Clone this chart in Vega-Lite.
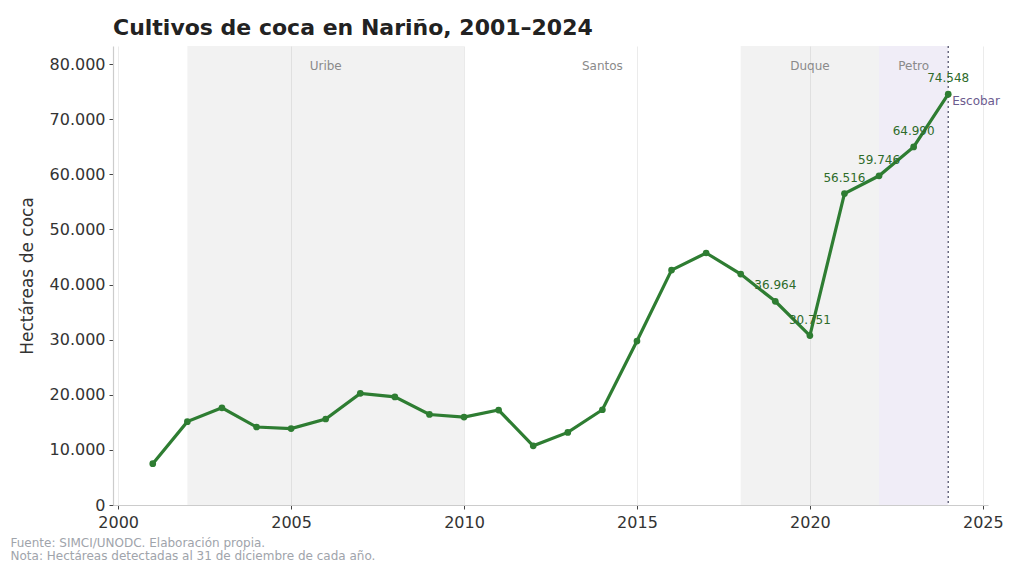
{
  "$schema": "https://vega.github.io/schema/vega-lite/v6.json",
  "width": 875,
  "height": 459,
  "autosize": {"type": "none"},
  "padding": {"left": 113, "top": 46, "right": 36, "bottom": 64},
  "background": "white",
  "title": {
    "text": "Cultivos de coca en Nariño, 2001–2024",
    "anchor": "start",
    "frame": "group",
    "fontSize": 22,
    "fontWeight": "bold",
    "color": "#222222",
    "offset": 5
  },
  "datasets": {
    "coca": [
      {"year": 2001, "ha": 7494},
      {"year": 2002, "ha": 15131},
      {"year": 2003, "ha": 17628},
      {"year": 2004, "ha": 14154},
      {"year": 2005, "ha": 13875},
      {"year": 2006, "ha": 15606},
      {"year": 2007, "ha": 20259},
      {"year": 2008, "ha": 19612},
      {"year": 2009, "ha": 16428},
      {"year": 2010, "ha": 15951},
      {"year": 2011, "ha": 17231},
      {"year": 2012, "ha": 10733},
      {"year": 2013, "ha": 13177},
      {"year": 2014, "ha": 17285},
      {"year": 2015, "ha": 29755},
      {"year": 2016, "ha": 42627},
      {"year": 2017, "ha": 45735},
      {"year": 2018, "ha": 41903},
      {"year": 2019, "ha": 36964},
      {"year": 2020, "ha": 30751},
      {"year": 2021, "ha": 56516},
      {"year": 2022, "ha": 59746},
      {"year": 2023, "ha": 64990},
      {"year": 2024, "ha": 74548}
    ],
    "periodos": [
      {"presidente": "Uribe", "inicio": 2002, "fin": 2010, "medio": 2006},
      {"presidente": "Santos", "inicio": 2010, "fin": 2018, "medio": 2014},
      {"presidente": "Duque", "inicio": 2018, "fin": 2022, "medio": 2020},
      {"presidente": "Petro", "inicio": 2022, "fin": 2024, "medio": 2023}
    ],
    "gobernador": [
      {"year": 2024, "ha": 73300, "nombre": "Escobar"}
    ]
  },
  "layer": [
    {
      "data": {"name": "periodos"},
      "transform": [{"filter": "datum.presidente != 'Santos'"}],
      "mark": {"type": "rect"},
      "encoding": {
        "x": {"field": "inicio", "type": "quantitative"},
        "x2": {"field": "fin"},
        "color": {
          "field": "presidente",
          "type": "nominal",
          "legend": null,
          "scale": {
            "domain": ["Uribe", "Duque", "Petro"],
            "range": ["#7f7f7f", "#7f7f7f", "#6a50b0"]
          }
        },
        "opacity": {
          "field": "presidente",
          "type": "nominal",
          "legend": null,
          "scale": {
            "domain": ["Uribe", "Duque", "Petro"],
            "range": [0.1, 0.1, 0.13]
          }
        }
      }
    },
    {
      "data": {"name": "periodos"},
      "mark": {"type": "text", "fontSize": 12, "color": "#8a8a8a", "baseline": "middle"},
      "encoding": {
        "x": {"field": "medio", "type": "quantitative"},
        "y": {"datum": 79600, "type": "quantitative"},
        "text": {"field": "presidente"}
      }
    },
    {
      "data": {"name": "gobernador"},
      "mark": {"type": "rule", "color": "#55556e", "strokeWidth": 1.3, "strokeDash": [2, 3]},
      "encoding": {
        "x": {"field": "year", "type": "quantitative"}
      }
    },
    {
      "data": {"name": "gobernador"},
      "mark": {"type": "text", "fontSize": 12, "color": "#6b5b8e", "align": "left", "baseline": "middle", "dx": 4},
      "encoding": {
        "x": {"field": "year", "type": "quantitative"},
        "y": {"field": "ha", "type": "quantitative"},
        "text": {"field": "nombre"}
      }
    },
    {
      "data": {"name": "coca"},
      "mark": {"type": "line", "color": "#2e7d32", "strokeWidth": 3.2, "point": {"filled": true, "size": 45, "color": "#2e7d32"}},
      "encoding": {
        "x": {
          "field": "year",
          "type": "quantitative",
          "scale": {"domain": [1999.85, 2025.15], "nice": false, "zero": false},
          "axis": {
            "values": [2000, 2005, 2010, 2015, 2020, 2025],
            "format": "d",
            "labelPadding": 5,
            "title": ["Fuente: SIMCI/UNODC. Elaboración propia.", "Nota: Hectáreas detectadas al 31 de diciembre de cada año."],
            "titleX": -103,
            "titleY": 32,
            "titleAlign": "left",
            "titleBaseline": "top",
            "titleAngle": 0,
            "titleFontSize": 12,
            "titleLineHeight": 13,
            "titleFontWeight": "normal",
            "titleColor": "#a0a4ab"
          }
        },
        "y": {
          "field": "ha",
          "type": "quantitative",
          "scale": {"domain": [0, 83300], "nice": false},
          "axis": {
            "values": [0, 10000, 20000, 30000, 40000, 50000, 60000, 70000, 80000],
            "format": ",.0f",
            "title": "Hectáreas de coca",
            "titleFontSize": 17,
            "titleFontWeight": "normal",
            "titleColor": "#333333",
            "titlePadding": 13
          }
        }
      }
    },
    {
      "data": {"name": "coca"},
      "transform": [{"filter": "datum.year >= 2019"}],
      "mark": {"type": "text", "fontSize": 12, "color": "#2e6b2a", "dy": -16},
      "encoding": {
        "x": {"field": "year", "type": "quantitative"},
        "y": {"field": "ha", "type": "quantitative"},
        "text": {"field": "ha", "type": "quantitative", "format": ",.0f"}
      }
    }
  ],
  "config": {
    "font": "DejaVu Sans",
    "locale": {
      "number": {"decimal": ",", "thousands": ".", "grouping": [3], "currency": ["$", ""]}
    },
    "view": {"stroke": null},
    "axis": {
      "domainColor": "#cccccc",
      "domainWidth": 1.2,
      "gridColor": "#ebebeb",
      "gridWidth": 1,
      "tickColor": "#444444",
      "tickSize": 4,
      "labelFontSize": 16,
      "labelColor": "#333333",
      "labelPadding": 4
    }
  }
}
